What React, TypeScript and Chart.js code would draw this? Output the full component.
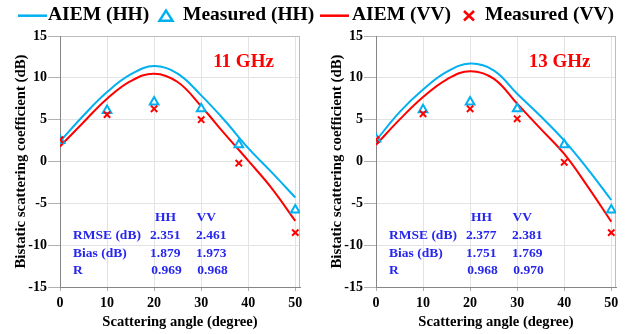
import React, { useEffect, useRef } from "react";
import { Chart, registerables } from "chart.js";

Chart.register(...registerables);

// ---------- data ----------
const CURVE_ANGLES = [0, 5, 10, 15, 20, 25, 30, 35, 40, 45, 50];

const AIEM_HH_11 = [2.4, 5.5, 8.3, 10.4, 11.4, 10.5, 7.9, 4.9, 1.6, -1.3, -4.3];
const AIEM_VV_11 = [1.8, 4.7, 7.5, 9.6, 10.5, 9.5, 6.6, 3.3, 0.1, -3.2, -7.1];
const MEAS_ANGLES_11 = [0, 10, 20, 30, 38, 50];
const MEAS_HH_11 = [2.5, 6.1, 7.1, 6.3, 2.0, -5.8];
const MEAS_VV_11 = [2.6, 5.6, 6.3, 5.0, -0.2, -8.5];

const AIEM_HH_13 = [2.5, 5.9, 8.6, 10.7, 11.7, 10.9, 8.1, 5.4, 2.5, -0.9, -4.6];
const AIEM_VV_13 = [2.0, 5.0, 7.7, 9.8, 10.8, 9.9, 6.9, 3.9, 0.9, -3.0, -7.2];
const MEAS_ANGLES_13 = [0, 10, 20, 30, 40, 50];
const MEAS_HH_13 = [2.7, 6.2, 7.1, 6.3, 2.0, -5.8];
const MEAS_VV_13 = [2.6, 5.7, 6.3, 5.1, -0.1, -8.5];

const STAT_COLS = ["HH", "VV"];
const STAT_ROWS = ["RMSE (dB)", "Bias (dB)", "R"];
const STATS_11 = [["2.351", "2.461"], ["1.879", "1.973"], ["0.969", "0.968"]];
const STATS_13 = [["2.377", "2.381"], ["1.751", "1.769"], ["0.968", "0.970"]];

const X_TICKS = [0, 10, 20, 30, 40, 50];
const Y_TICKS = [-15, -10, -5, 0, 5, 10, 15];

const LEGEND_LABELS = ["AIEM (HH)", "Measured (HH)", "AIEM (VV)", "Measured (VV)"];

// ---------- styles ----------
const FONT = "'Liberation Serif', 'Times New Roman', serif";
const BLUE = "#00B0F0";
const RED = "#FF0000";
const STAT_BLUE = "#2626EE";
const GRID = "#e3e3e3";
const AXIS = "#868686";

const decorPlugin = {
  id: "panelDecor",
  beforeDatasetsDraw(chart: any) {
    const { ctx, chartArea } = chart;
    const { right, top, bottom } = chartArea;
    ctx.save();
    ctx.strokeStyle = "#bdbdbd";
    ctx.lineWidth = 1;
    ctx.beginPath();
    const rx = Math.round(right) - 0.5;
    ctx.moveTo(rx, top);
    ctx.lineTo(rx, bottom);
    ctx.stroke();
    ctx.restore();
  },
  afterDatasetsDraw(chart: any, _args: any, opts: any) {
    const { ctx, chartArea } = chart;
    const { left, top } = chartArea;
    ctx.save();
    ctx.textBaseline = "middle";
    ctx.fillStyle = RED;
    ctx.textAlign = "center";
    ctx.font = `bold 19px ${FONT}`;
    ctx.fillText(opts.freq, left + 183.5, top + 26.3);

    ctx.fillStyle = STAT_BLUE;
    ctx.textAlign = "left";
    ctx.font = `bold 13.5px ${FONT}`;
    const rowsY = [200, 217.7, 234.5];
    const headY = 182;
    ctx.fillText(STAT_COLS[0], left + 95, top + headY);
    ctx.fillText(STAT_COLS[1], left + 136.5, top + headY);
    STAT_ROWS.forEach((r, i) => {
      const y = top + rowsY[i];
      ctx.fillText(r, left + 13, y);
      const extra = i === 2 ? 1.3 : 0;
      ctx.fillText(opts.stats[i][0], left + 90 + extra, y);
      ctx.fillText(opts.stats[i][1], left + 136 + extra, y);
    });
    ctx.restore();
  },
};

function pts(xs: number[], ys: number[]) {
  return xs.map((x, i) => ({ x, y: ys[i] }));
}

function makeConfig(
  hh: number[],
  vv: number[],
  mx: number[],
  mhh: number[],
  mvv: number[],
  freq: string,
  stats: string[][]
): any {
  const tickFont = { family: FONT, size: 14, weight: "bold" as const };
  return {
    type: "scatter",
    data: {
      datasets: [
        {
          label: LEGEND_LABELS[0],
          data: pts(CURVE_ANGLES, hh),
          showLine: true,
          borderColor: BLUE,
          borderWidth: 2,
          pointRadius: 0,
          tension: 0.4,
          order: 3,
        },
        {
          label: LEGEND_LABELS[1],
          data: pts(mx, mhh),
          showLine: false,
          pointStyle: "triangle",
          pointRadius: 5,
          pointBorderColor: BLUE,
          pointBackgroundColor: "#ffffff",
          pointBorderWidth: 2,
          borderColor: BLUE,
          backgroundColor: "#ffffff",
          order: 1,
        },
        {
          label: LEGEND_LABELS[2],
          data: pts(CURVE_ANGLES, vv),
          showLine: true,
          borderColor: RED,
          borderWidth: 2,
          pointRadius: 0,
          tension: 0.4,
          order: 2,
        },
        {
          label: LEGEND_LABELS[3],
          data: pts(mx, mvv),
          showLine: false,
          pointStyle: "crossRot",
          pointRadius: 4.5,
          pointBorderColor: RED,
          pointBorderWidth: 2,
          borderColor: RED,
          order: 0,
        },
      ],
    },
    options: {
      responsive: false,
      animation: false,
      events: [],
      layout: { padding: { top: 36, right: 10, bottom: 0, left: 0 } },
      plugins: {
        legend: { display: false },
        tooltip: { enabled: false },
        panelDecor: { freq, stats },
      },
      scales: {
        x: {
          type: "linear",
          min: 0,
          max: 51,
          afterBuildTicks: (s: any) => {
            s.ticks = X_TICKS.map((v) => ({ value: v }));
          },
          afterFit: (s: any) => {
            s.height = 47;
          },
          ticks: { color: "#000", font: tickFont, padding: 4, maxRotation: 0, autoSkip: false },
          grid: { color: GRID, tickLength: 4, tickColor: "#b0b0b0" },
          border: { color: AXIS, width: 1 },
          title: {
            display: true,
            text: "Scattering angle (degree)",
            color: "#000",
            font: { family: FONT, size: 14.6, weight: "bold" },
            padding: { top: 0, bottom: 3.2 },
          },
        },
        y: {
          type: "linear",
          min: -15,
          max: 15,
          afterBuildTicks: (s: any) => {
            s.ticks = Y_TICKS.map((v) => ({ value: v }));
          },
          afterFit: (s: any) => {
            s.width = 60;
          },
          ticks: { color: "#000", font: tickFont, padding: 1, autoSkip: false },
          grid: {
            color: (c: any) => (c.tick && c.tick.value === 15 ? "#bdbdbd" : GRID),
            tickLength: 12,
            tickColor: "#b0b0b0",
          },
          border: { color: AXIS, width: 1 },
          title: {
            display: true,
            text: "Bistatic scattering coefficient (dB)",
            color: "#000",
            font: { family: FONT, size: 14.8, weight: "bold" },
            padding: { top: 12, bottom: 0 },
          },
        },
      },
    },
    plugins: [decorPlugin],
  };
}

function Panel(props: { left: number; cfg: any }) {
  const ref = useRef<HTMLCanvasElement | null>(null);
  useEffect(() => {
    if (!ref.current) return;
    const chart = new Chart(ref.current, props.cfg);
    return () => chart.destroy();
  }, []);
  return (
    <canvas
      ref={ref}
      width={310}
      height={334}
      style={{ position: "absolute", left: props.left, top: 0, width: 310, height: 334 }}
    />
  );
}

const legendText: React.CSSProperties = {
  position: "absolute",
  top: 4.2,
  fontFamily: FONT,
  fontWeight: "bold",
  fontSize: "19.5px",
  lineHeight: "19.5px",
  color: "#000",
  whiteSpace: "nowrap",
};

export default function App() {
  const cfg11 = makeConfig(AIEM_HH_11, AIEM_VV_11, MEAS_ANGLES_11, MEAS_HH_11, MEAS_VV_11, "11 GHz", STATS_11);
  const cfg13 = makeConfig(AIEM_HH_13, AIEM_VV_13, MEAS_ANGLES_13, MEAS_HH_13, MEAS_VV_13, "13 GHz", STATS_13);
  return (
    <div
      style={{
        position: "absolute",
        left: 0,
        top: 0,
        width: 626,
        height: 334,
        background: "#ffffff",
        overflow: "hidden",
      }}
    >
      <Panel left={0} cfg={cfg11} />
      <Panel left={316} cfg={cfg13} />
      <svg
        width={626}
        height={30}
        style={{ position: "absolute", left: 0, top: 0 }}
      >
        <line x1={18} y1={15.7} x2={47} y2={15.7} stroke={BLUE} strokeWidth={2.5} />
        <polygon points="159.5,20.7 172.5,20.7 166,10.5" fill="#fff" stroke={BLUE} strokeWidth={2.5} />
        <line x1={320} y1={15.7} x2={349} y2={15.7} stroke={RED} strokeWidth={2.5} />
        <line x1={464} y1={11} x2={474} y2={20.5} stroke={RED} strokeWidth={2.5} />
        <line x1={474} y1={11} x2={464} y2={20.5} stroke={RED} strokeWidth={2.5} />
      </svg>
      <span style={{ ...legendText, left: 48 }}>{LEGEND_LABELS[0]}</span>
      <span style={{ ...legendText, left: 183 }}>{LEGEND_LABELS[1]}</span>
      <span style={{ ...legendText, left: 352 }}>{LEGEND_LABELS[2]}</span>
      <span style={{ ...legendText, left: 485 }}>{LEGEND_LABELS[3]}</span>
    </div>
  );
}
